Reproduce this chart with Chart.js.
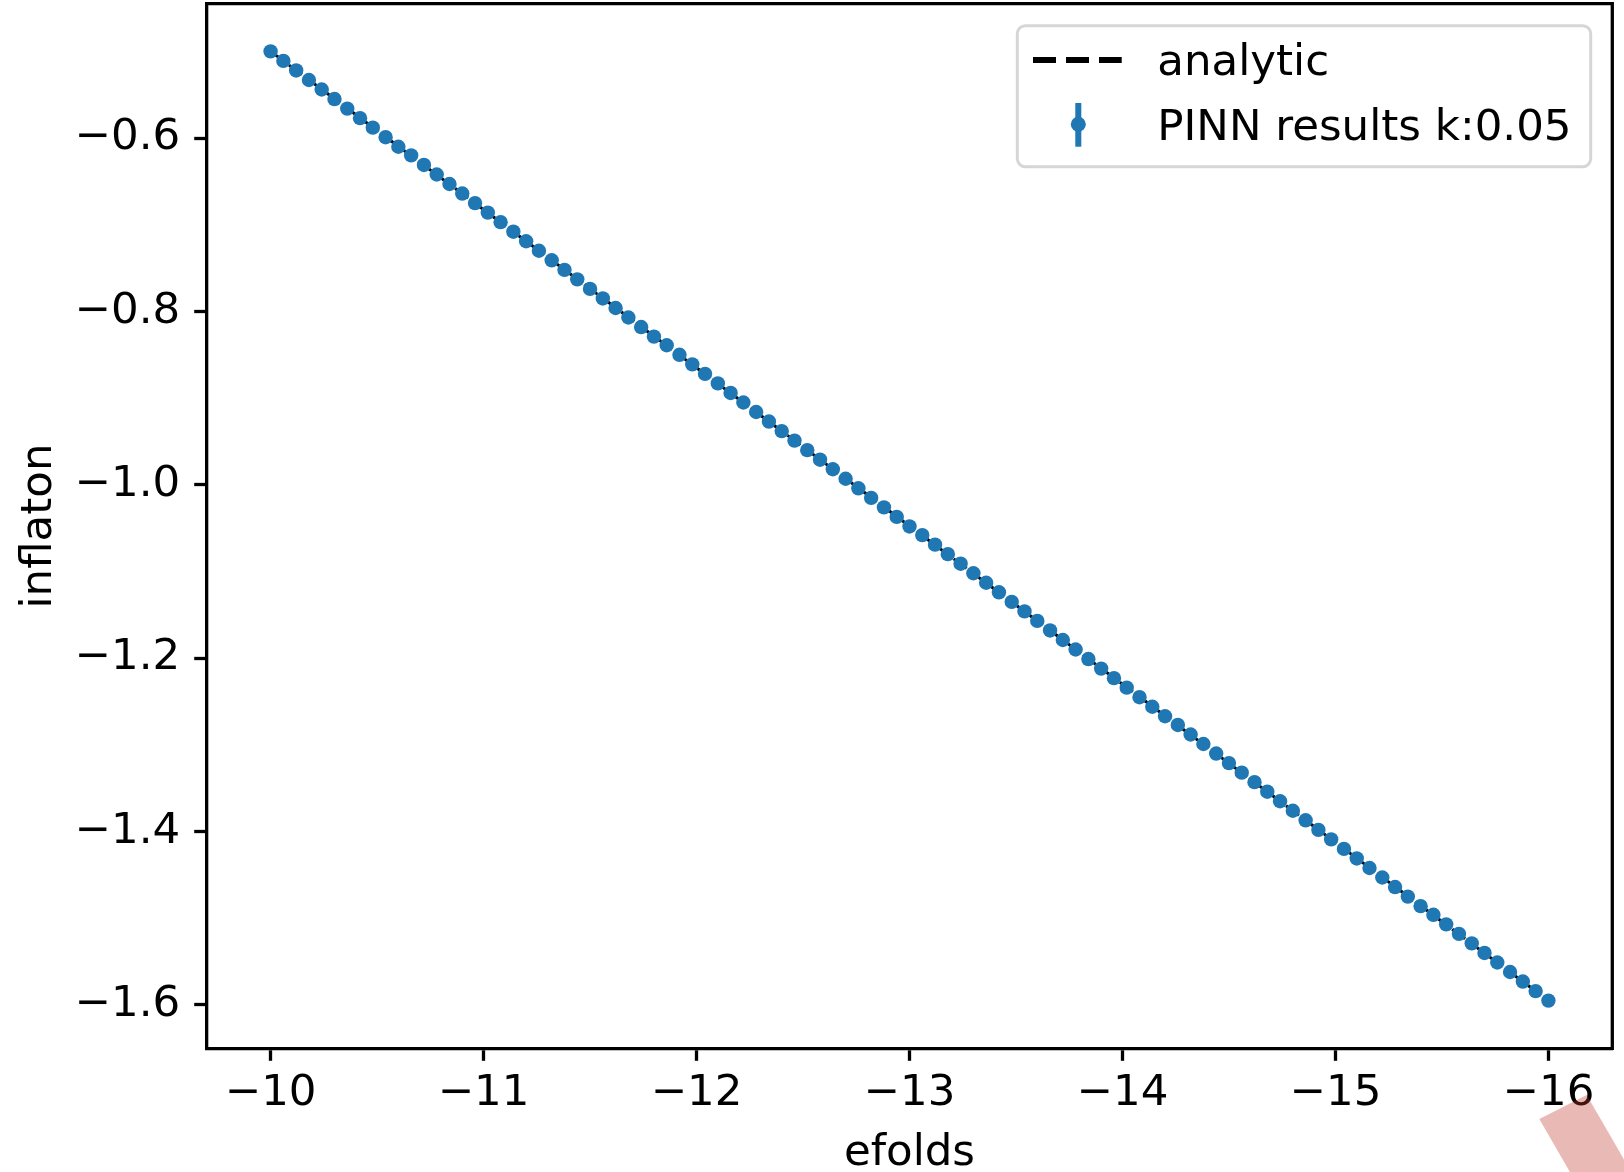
<!DOCTYPE html>
<html>
<head>
<meta charset="utf-8">
<script src="https://cdn.jsdelivr.net/npm/chart.js@4/dist/chart.umd.min.js"></script>
<style>
  html, body { margin: 0; padding: 0; background: #ffffff; overflow: hidden; }
  canvas { display: block; }
</style>
</head>
<body>
<canvas id="c" width="1624" height="1172"></canvas>
<script>
// e-fold grid of the network evaluation points
const efolds = [
  -10, -10.06, -10.12, -10.18, -10.24, -10.3, -10.36, -10.42, -10.48, -10.54,
  -10.6, -10.66, -10.72, -10.78, -10.84, -10.9, -10.96, -11.02, -11.08, -11.14,
  -11.2, -11.26, -11.32, -11.38, -11.44, -11.5, -11.56, -11.62, -11.68, -11.74,
  -11.8, -11.86, -11.92, -11.98, -12.04, -12.1, -12.16, -12.22, -12.28, -12.34,
  -12.4, -12.46, -12.52, -12.58, -12.64, -12.7, -12.76, -12.82, -12.88, -12.94,
  -13, -13.06, -13.12, -13.18, -13.24, -13.3, -13.36, -13.42, -13.48, -13.54,
  -13.6, -13.66, -13.72, -13.78, -13.84, -13.9, -13.96, -14.02, -14.08, -14.14,
  -14.2, -14.26, -14.32, -14.38, -14.44, -14.5, -14.56, -14.62, -14.68, -14.74,
  -14.8, -14.86, -14.92, -14.98, -15.04, -15.1, -15.16, -15.22, -15.28, -15.34,
  -15.4, -15.46, -15.52, -15.58, -15.64, -15.7, -15.76, -15.82, -15.88, -15.94,
  -16
];

// PINN prediction of the inflaton field at each e-fold
const pinnPhi = [
  -0.500, -0.511, -0.522, -0.533, -0.544, -0.555, -0.566, -0.577, -0.588, -0.599,
  -0.610, -0.620, -0.631, -0.642, -0.653, -0.664, -0.675, -0.686, -0.697, -0.708,
  -0.719, -0.730, -0.741, -0.752, -0.763, -0.774, -0.785, -0.796, -0.807, -0.818,
  -0.829, -0.839, -0.850, -0.861, -0.872, -0.883, -0.894, -0.905, -0.916, -0.927,
  -0.938, -0.949, -0.960, -0.971, -0.982, -0.993, -1.004, -1.015, -1.026, -1.037,
  -1.048, -1.058, -1.069, -1.080, -1.091, -1.102, -1.113, -1.124, -1.135, -1.146,
  -1.157, -1.168, -1.179, -1.190, -1.201, -1.212, -1.223, -1.234, -1.245, -1.256,
  -1.267, -1.277, -1.288, -1.299, -1.310, -1.321, -1.332, -1.343, -1.354, -1.365,
  -1.376, -1.387, -1.398, -1.409, -1.420, -1.431, -1.442, -1.453, -1.464, -1.475,
  -1.486, -1.496, -1.507, -1.518, -1.529, -1.540, -1.551, -1.562, -1.573, -1.584,
  -1.595
];

// analytic solution
const analyticEfolds = [-10, -11, -12, -13, -14, -15, -16];
const analyticPhi = [-0.5, -0.6825, -0.865, -1.0475, -1.23, -1.4125, -1.595];

// axis ticks
const xTicks = [-10, -11, -12, -13, -14, -15, -16];
const yTicks = [-0.6, -0.8, -1.0, -1.2, -1.4, -1.6];

const seriesLabels = ['analytic', 'PINN results k:0.05'];
const axisTitles = { x: 'efolds', y: 'inflaton' };

const FONT = 'DejaVu Sans';
const FS = 43.5;
const BLUE = '#1f77b4';
const AXIS_W = 3.3;

const fmtTick = (v, digits) =>
  (v < 0 ? '\u2212' : '') + Math.abs(v).toFixed(digits);

// closes the frame on the top and right sides
const frame = {
  id: 'frame',
  afterDraw(chart) {
    const { ctx, chartArea: a } = chart;
    ctx.save();
    ctx.strokeStyle = '#000';
    ctx.lineWidth = AXIS_W;
    ctx.lineCap = 'square';
    ctx.beginPath();
    ctx.moveTo(a.left, a.top);
    ctx.lineTo(a.right, a.top);
    ctx.lineTo(a.right, a.bottom);
    ctx.stroke();
    ctx.restore();
  }
};

// legend box in the upper right corner of the axes
const legendBox = {
  id: 'legendBox',
  afterDatasetsDraw(chart) {
    const { ctx, chartArea: a } = chart;
    const w = 573.4, h = 141;
    const left = a.right - 21.6 - w, top = a.top + 22;
    ctx.save();
    ctx.beginPath();
    ctx.roundRect(left, top, w, h, 8);
    ctx.fillStyle = 'rgba(255,255,255,0.8)';
    ctx.fill();
    ctx.lineWidth = 3;
    ctx.strokeStyle = '#d6d6d6';
    ctx.stroke();

    // dashed line sample
    const ly1 = top + 34.3;
    ctx.beginPath();
    ctx.setLineDash([23, 10]);
    ctx.lineWidth = 6;
    ctx.strokeStyle = '#000';
    ctx.moveTo(left + 15.7, ly1);
    ctx.lineTo(left + 104.4, ly1);
    ctx.stroke();
    ctx.setLineDash([]);

    // error bar marker sample
    const mx = left + 61;
    ctx.beginPath();
    ctx.lineWidth = 6;
    ctx.strokeStyle = BLUE;
    ctx.moveTo(mx, top + 77.3);
    ctx.lineTo(mx, top + 121);
    ctx.stroke();
    ctx.beginPath();
    ctx.fillStyle = BLUE;
    ctx.arc(mx, top + 98.6, 7.5, 0, Math.PI * 2);
    ctx.fill();

    ctx.fillStyle = '#000';
    ctx.font = `${FS}px "${FONT}"`;
    ctx.textAlign = 'left';
    ctx.textBaseline = 'alphabetic';
    ctx.fillText(seriesLabels[0], left + 140, top + 49);
    ctx.fillText(seriesLabels[1], left + 140, top + 114);
    ctx.restore();
  }
};

// translucent red tab across the lower right corner
const cornerTab = {
  id: 'cornerTab',
  afterDraw(chart) {
    const { ctx } = chart;
    const ax = 1539.3, ay = 1119, bx = 1586.7, by = 1095;
    const dx = 0.5 * 200, dy = 0.866 * 200;
    ctx.save();
    ctx.fillStyle = 'rgba(192,57,43,0.35)';
    ctx.beginPath();
    ctx.moveTo(ax, ay);
    ctx.lineTo(bx, by);
    ctx.lineTo(bx + dx, by + dy);
    ctx.lineTo(ax + dx, ay + dy);
    ctx.closePath();
    ctx.fill();
    ctx.restore();
  }
};

Chart.defaults.font.family = FONT;
Chart.defaults.color = '#000';

new Chart(document.getElementById('c'), {
  type: 'scatter',
  data: {
    datasets: [
      {
        label: seriesLabels[1],
        data: efolds.map((x, i) => ({ x, y: pinnPhi[i] })),
        pointRadius: 7.2,
        pointHoverRadius: 7.2,
        pointBackgroundColor: BLUE,
        pointBorderWidth: 0,
        showLine: false,
        order: 0
      },
      {
        label: seriesLabels[0],
        data: analyticEfolds.map((x, i) => ({ x, y: analyticPhi[i] })),
        showLine: true,
        borderColor: '#000',
        borderWidth: 3,
        borderDash: [16, 7],
        pointRadius: 0,
        fill: false,
        order: 1
      }
    ]
  },
  options: {
    responsive: false,
    animation: false,
    devicePixelRatio: 1,
    layout: { autoPadding: false, padding: { left: 0, right: 11.7, top: 3.7, bottom: 0 } },
    plugins: {
      legend: { display: false },
      tooltip: { enabled: false }
    },
    scales: {
      x: {
        type: 'linear',
        reverse: true,
        min: -16.3,
        max: -9.7,
        afterBuildTicks: s => { s.ticks = xTicks.map(v => ({ value: v })); },
        afterFit: s => {
          s.height = 1172 - 1048.3;
          s.paddingLeft = 0;
          s.paddingRight = 0;
        },
        ticks: {
          autoSkip: false,
          maxRotation: 0,
          padding: 11.5,
          font: { size: FS, lineHeight: 1 },
          color: '#000',
          callback: v => fmtTick(v, 0)
        },
        grid: {
          drawOnChartArea: false,
          drawTicks: true,
          tickLength: 12.5,
          tickWidth: AXIS_W,
          tickColor: '#000'
        },
        border: { display: true, color: '#000', width: AXIS_W },
        title: {
          display: true,
          text: axisTitles.x,
          color: '#000',
          font: { size: FS, lineHeight: 1 },
          padding: { top: 0, bottom: -3 }
        }
      },
      y: {
        type: 'linear',
        min: -1.65,
        max: -0.445,
        afterBuildTicks: s => { s.ticks = yTicks.map(v => ({ value: v })); },
        afterFit: s => {
          s.width = 206.7;
          s.paddingTop = 0;
          s.paddingBottom = 0;
        },
        ticks: {
          autoSkip: false,
          padding: 14,
          font: { size: FS, lineHeight: 1 },
          color: '#000',
          callback: v => fmtTick(v, 1)
        },
        grid: {
          drawOnChartArea: false,
          drawTicks: true,
          tickLength: 12.5,
          tickWidth: AXIS_W,
          tickColor: '#000'
        },
        border: { display: true, color: '#000', width: AXIS_W },
        title: {
          display: true,
          text: axisTitles.y,
          color: '#000',
          font: { size: FS, lineHeight: 1 },
          padding: { top: 18, bottom: 0 }
        }
      }
    }
  },
  plugins: [legendBox, frame, cornerTab]
});
</script>
</body>
</html>
